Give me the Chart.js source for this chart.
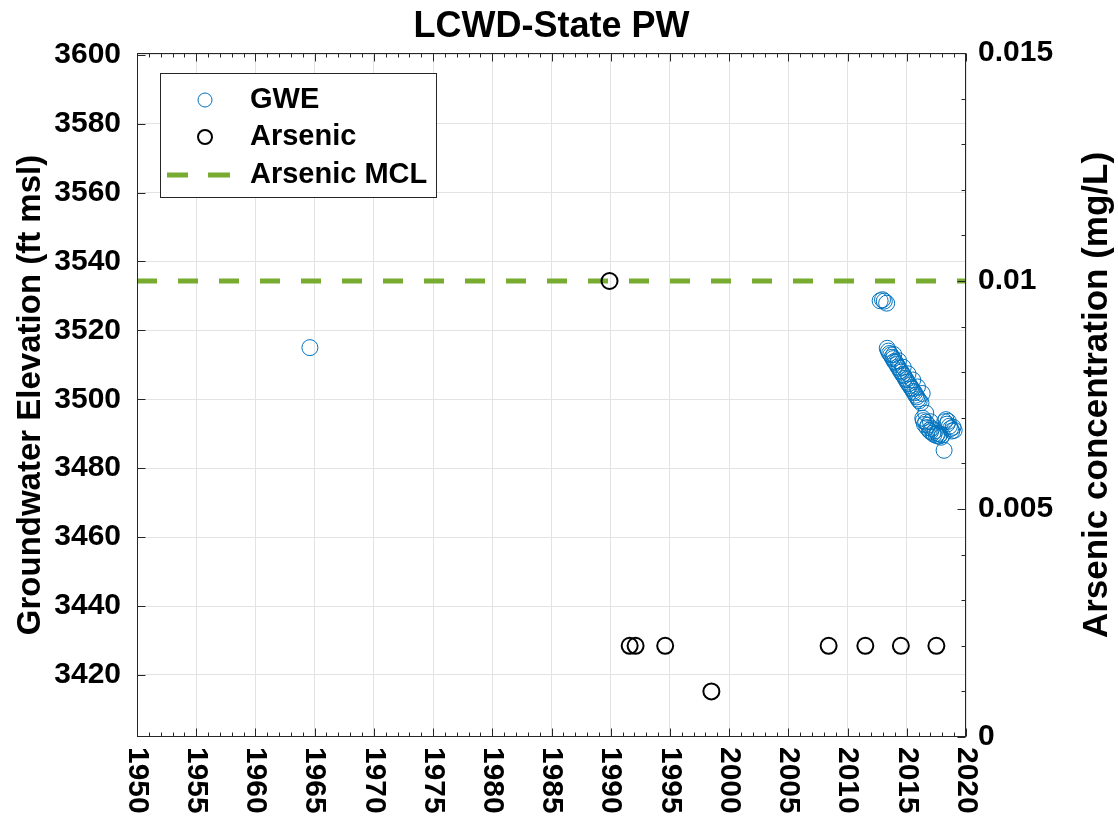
<!DOCTYPE html>
<html>
<head>
<meta charset="utf-8">
<script src="https://cdn.jsdelivr.net/npm/chart.js@4.4.1/dist/chart.umd.min.js"></script>
<style>
body{margin:0;background:#fff;}
#wrap{width:1118px;height:827px;position:relative;}
</style>
</head>
<body>
<div id="wrap"><canvas id="plot"></canvas></div>
<script>
// labels
const titleText = 'LCWD-State PW';
const leftTitle = 'Groundwater Elevation (ft msl)';
const rightTitle = 'Arsenic concentration (mg/L)';
const seriesNames = ['GWE', 'Arsenic', 'Arsenic MCL'];

// tick labels
const yearTicks = [1950, 1955, 1960, 1965, 1970, 1975, 1980, 1985, 1990, 1995, 2000, 2005, 2010, 2015, 2020];
const elevTicks = [3420, 3440, 3460, 3480, 3500, 3520, 3540, 3560, 3580, 3600];
const arsTicks = [0, 0.005, 0.01, 0.015];

// groundwater elevation (ft msl)
const gweYears = [1964.6,
  2012.75, 2012.95, 2013.1, 2013.3,
  2013.35, 2013.45, 2013.55, 2013.65, 2013.75, 2013.85, 2013.95, 2014.05, 2014.15, 2014.25,
  2014.35, 2014.45, 2014.55, 2014.65, 2014.75, 2014.85, 2014.95, 2015.05, 2015.15, 2015.25,
  2015.35, 2015.45, 2015.55, 2015.65, 2015.75, 2015.85, 2015.95, 2016.05, 2016.2, 2016.35,
  2016.4, 2016.5, 2016.6, 2016.7, 2016.8, 2016.9, 2017.0, 2017.1, 2017.2, 2017.3,
  2017.4, 2017.5, 2017.6, 2017.7, 2017.8, 2017.9, 2018.0, 2018.15, 2018.2, 2018.3,
  2018.4, 2018.5, 2018.6, 2018.7, 2018.8, 2018.9, 2019.0,
  2013.9, 2014.3, 2014.7, 2015.1, 2015.5, 2015.9, 2016.3, 2016.6, 2017.0];
const gweElev = [3515,
  3528.6, 3528.9, 3528.5, 3527.9,
  3514.8, 3514.0, 3513.3, 3512.9, 3512.2, 3511.8, 3511.0, 3510.7, 3510.1, 3509.4,
  3509.0, 3508.3, 3507.9, 3507.2, 3506.8, 3506.1, 3505.7, 3505.0, 3504.5, 3504.0,
  3503.4, 3503.0, 3502.3, 3501.9, 3501.2, 3500.7, 3500.1, 3499.6, 3499.0, 3494.5,
  3493.8, 3492.7, 3493.4, 3491.8, 3492.5, 3491.0, 3490.6, 3491.5, 3490.2, 3489.8,
  3490.9, 3489.5, 3490.1, 3489.3, 3489.9, 3489.0, 3489.6, 3485.2, 3493.5, 3494.1,
  3492.8, 3493.6, 3492.2, 3491.5, 3490.8, 3491.9, 3491.0,
  3513.0, 3511.2, 3509.3, 3507.4, 3505.6, 3503.6, 3501.7, 3496.0, 3493.5];

// arsenic (mg/L)
const arsYears = [1989.9, 1991.6, 1992.1, 1994.6, 1998.5, 2008.4, 2011.5, 2014.5, 2017.5];
const arsConc = [0.01, 0.002, 0.002, 0.002, 0.001, 0.002, 0.002, 0.002, 0.002];

// MCL
const mclYears = [1950, 2020];
const mclConc = [0.01, 0.01];

const FONT = '"Liberation Sans", Arial, sans-serif';
const blue = '#0072BD';
const green = '#77AC30';

const decor = {
  id: 'decor',
  afterDraw(chart) {
    const c = chart.ctx, a = chart.chartArea;
    const xs = chart.scales.x, ys = chart.scales.y, rs = chart.scales.y1;
    const L = Math.round(a.left) + 0.5, R = Math.round(a.right) - 0.5;
    const T = Math.round(a.top) + 0.5, B = Math.round(a.bottom) - 0.5;
    c.save();
    c.strokeStyle = '#262626';
    c.lineWidth = 1;
    c.strokeRect(L, T, R - L, B - T);

    // inward ticks
    c.beginPath();
    for (let yr = 1950; yr <= 2020; yr++) {
      const x = Math.round(xs.getPixelForValue(yr)) + 0.5;
      const len = yr % 5 === 0 ? 8 : 4;
      c.moveTo(x, B); c.lineTo(x, B - len);
      c.moveTo(x, T); c.lineTo(x, T + len);
    }
    elevTicks.forEach(v => {
      const y = Math.round(ys.getPixelForValue(v)) + 0.5;
      c.moveTo(L, y); c.lineTo(L + 8, y);
    });
    for (let i = 0; i <= 15; i++) {
      const y = Math.round(rs.getPixelForValue(i / 1000)) + 0.5;
      const len = i % 5 === 0 ? 8 : 4;
      c.moveTo(R, y); c.lineTo(R - len, y);
    }
    c.stroke();

    c.fillStyle = '#000';
    // x tick labels, turned clockwise
    c.font = 'bold 30px ' + FONT;
    c.textAlign = 'left';
    c.textBaseline = 'middle';
    yearTicks.forEach(yr => {
      c.save();
      c.translate(xs.getPixelForValue(yr), a.bottom + 10);
      c.rotate(Math.PI / 2);
      c.fillText(String(yr), 0, 0);
      c.restore();
    });

    // axis titles
    const mid = (a.top + a.bottom) / 2;
    c.font = 'bold 33px ' + FONT;
    c.textAlign = 'center';
    c.save();
    c.translate(31, mid);
    c.rotate(-Math.PI / 2);
    c.fillText(leftTitle, 0, 0);
    c.restore();
    c.font = 'bold 35px ' + FONT;
    c.save();
    c.translate(1097, mid);
    c.rotate(-Math.PI / 2);
    c.fillText(rightTitle, 0, 0);
    c.restore();

    // title
    c.font = 'bold 36px ' + FONT;
    c.fillText(titleText, (a.left + a.right) / 2, 27);

    // legend
    c.fillStyle = '#fff';
    c.fillRect(160, 73, 276, 124);
    c.strokeStyle = '#262626';
    c.lineWidth = 1;
    c.strokeRect(160.5, 73.5, 276, 124);
    const rows = [100, 137, 175];
    c.lineWidth = 1;
    c.strokeStyle = blue;
    c.beginPath(); c.arc(205, rows[0], 7, 0, Math.PI * 2); c.stroke();
    c.lineWidth = 2;
    c.strokeStyle = '#000';
    c.beginPath(); c.arc(205, rows[1], 7, 0, Math.PI * 2); c.stroke();
    c.lineWidth = 5;
    c.strokeStyle = green;
    c.beginPath();
    c.moveTo(167, rows[2]); c.lineTo(188, rows[2]);
    c.moveTo(208, rows[2]); c.lineTo(230, rows[2]);
    c.stroke();
    c.fillStyle = '#000';
    c.font = 'bold 29px ' + FONT;
    c.textAlign = 'left';
    seriesNames.forEach((n, i) => c.fillText(n, 250, rows[i]));
    c.restore();
  }
};

const ctx = document.getElementById('plot').getContext('2d');
const myChart = new Chart(ctx, {
  type: 'scatter',
  data: {
    datasets: [{
      label: seriesNames[0],
      data: gweYears.map((x, i) => ({x: x, y: gweElev[i]})),
      yAxisID: 'y',
      pointStyle: 'circle',
      pointRadius: 8,
      borderColor: blue,
      backgroundColor: 'rgba(0,0,0,0)',
      borderWidth: 1,
      order: 2
    }, {
      label: seriesNames[1],
      data: arsYears.map((x, i) => ({x: x, y: arsConc[i]})),
      yAxisID: 'y1',
      pointRadius: 8,
      borderColor: '#000',
      backgroundColor: 'rgba(0,0,0,0)',
      borderWidth: 2,
      order: 1
    }, {
      type: 'line',
      label: seriesNames[2],
      data: mclYears.map((x, i) => ({x: x, y: mclConc[i]})),
      yAxisID: 'y1',
      borderColor: green,
      borderWidth: 5,
      borderDash: [20, 21],
      pointRadius: 0,
      fill: false,
      order: 3
    }]
  },
  options: {
    responsive: true,
    maintainAspectRatio: false,
    animation: false,
    layout: {padding: {top: 53, left: 0, right: 0, bottom: 0}},
    plugins: {legend: {display: false}, tooltip: {enabled: false}},
    scales: {
      x: {
        type: 'linear', position: 'bottom', min: 1950, max: 2020,
        afterBuildTicks: s => { s.ticks = yearTicks.map(v => ({value: v})); },
        afterFit: s => { s.height = 90; },
        grid: {color: '#e3e3e3', drawTicks: false},
        border: {display: false},
        ticks: {display: false}
      },
      y: {
        type: 'linear', position: 'left', min: 3402, max: 3600.5,
        afterBuildTicks: s => { s.ticks = elevTicks.map(v => ({value: v})); },
        afterFit: s => { s.width = 137; },
        grid: {color: '#e3e3e3', drawTicks: false},
        border: {display: false},
        ticks: {color: '#000', padding: 16, font: {family: FONT, size: 30, weight: 'bold'},
          callback: v => String(v)}
      },
      y1: {
        type: 'linear', position: 'right', min: 0, max: 0.015,
        afterBuildTicks: s => { s.ticks = arsTicks.map(v => ({value: v})); },
        afterFit: s => { s.width = 152; },
        grid: {display: false, drawTicks: false},
        border: {display: false},
        ticks: {color: '#000', padding: 12, font: {family: FONT, size: 30, weight: 'bold'},
          callback: v => String(v)}
      }
    }
  },
  plugins: [decor]
});
</script>
</body>
</html>
